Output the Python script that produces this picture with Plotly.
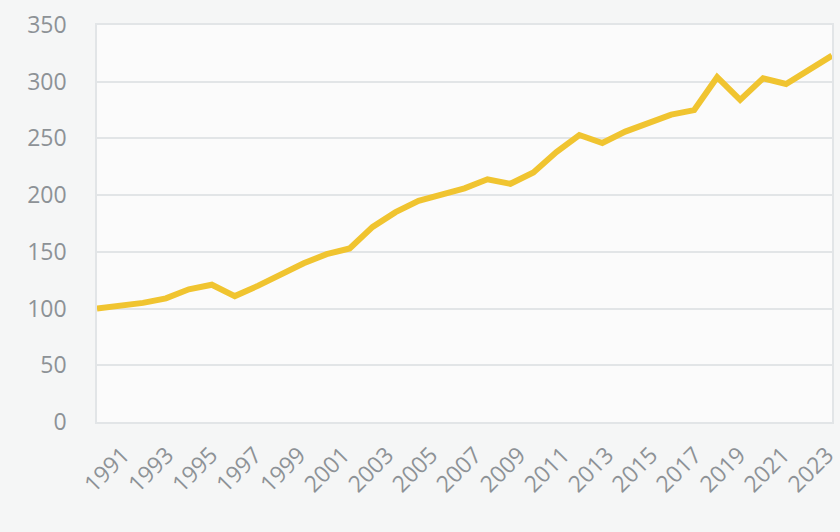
import plotly.graph_objects as go

years = list(range(1991, 2024))
values = [100, 102, 105, 109, 117, 121, 111, 120, 130, 140,
          148, 153, 172, 185, 195, 200, 206, 214, 210, 220,
          238, 253, 246, 256, 263, 271, 275, 304, 284, 303,
          298, 310, 323]
tick_years = list(range(1991, 2024, 2))
tick_labels = [str(y) for y in tick_years]
y_ticks = [0, 50, 100, 150, 200, 250, 300, 350]

fig = go.Figure()
fig.add_trace(go.Scatter(
    x=years, y=values, mode="lines",
    line=dict(color="#F0C430", width=6),
    showlegend=False,
))
# invisible companion trace that carries the tick-label axis
fig.add_trace(go.Scatter(
    x=years, y=values, mode="lines", xaxis="x2",
    line=dict(color="rgba(0,0,0,0)", width=0),
    hoverinfo="skip", showlegend=False,
))

font_color = "#8d9296"
fig.update_layout(
    width=840, height=532,
    margin=dict(l=97, r=8, t=25, b=110),
    paper_bgcolor="#f5f6f6",
    plot_bgcolor="#fbfbfb",
    font=dict(family="Open Sans", size=23, color=font_color),
    xaxis=dict(
        range=[1991, 2023], automargin=False,
        showticklabels=False, showgrid=False, zeroline=False,
        showline=True, mirror=True, linecolor="#e2e5e7", linewidth=1.5,
        ticks="",
    ),
    xaxis2=dict(
        overlaying="x", anchor="y", side="bottom",
        range=[1989.82, 2023.23], automargin=False,
        tickmode="array", tickvals=tick_years, ticktext=tick_labels,
        tickangle=-45, showgrid=False, zeroline=False, showline=False,
        ticks="", ticklabelstandoff=14, ticklabeloverflow="allow",
    ),
    yaxis=dict(
        range=[0, 350], automargin=False,
        tickmode="array", tickvals=y_ticks,
        showgrid=True, gridcolor="#e2e5e7", gridwidth=1.5, zeroline=False,
        showline=True, mirror=True, linecolor="#e2e5e7", linewidth=1.5,
        ticks="", ticklabelstandoff=24,
    ),
)

fig.write_html(
    "out.html",
    config={"displayModeBar": False},
    post_script="document.body.style.margin='0';document.body.style.background='#f5f6f6';",
)
